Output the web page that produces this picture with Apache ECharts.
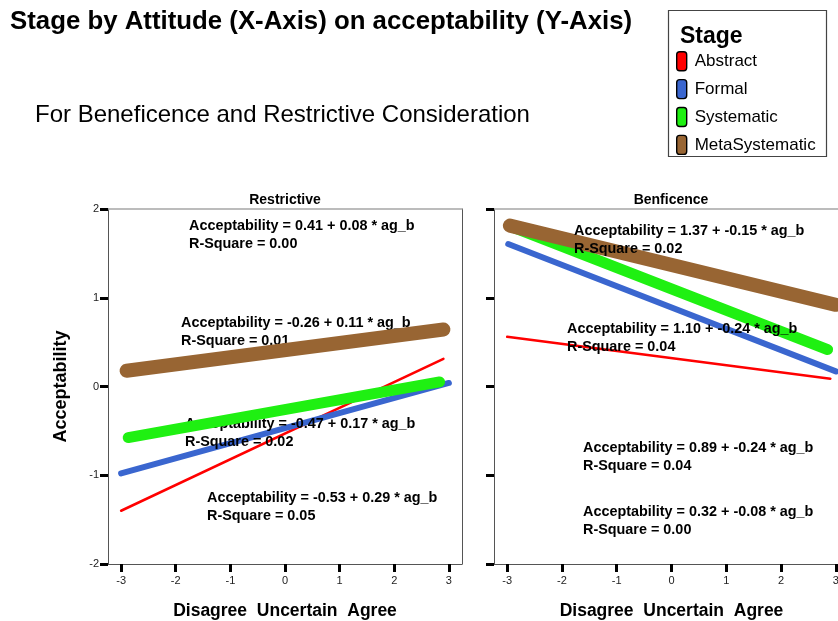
<!DOCTYPE html>
<html>
<head>
<meta charset="utf-8">
<script src="https://cdn.jsdelivr.net/npm/echarts@6/dist/echarts.min.js"></script>
<style>
  html, body { margin: 0; padding: 0; background: #fff; }
  #chart { width: 838px; height: 621px; }
</style>
</head>
<body>
<div id="chart"></div>
<script>
// Stages and their colours
const stages = ['Abstract', 'Formal', 'Systematic', 'MetaSystematic'];
const stageColors = ['#ff0000', '#3a66cf', '#1ff012', '#986533'];
const stageWidths = [2.5, 6, 11, 14];

// Tick values shared by both panels
const xTicks = [-3, -2, -1, 0, 1, 2, 3];

// Restrictive panel: fitted regression per stage
const restrictiveIntercept = [-0.53, -0.47, -0.26, 0.41];
const restrictiveSlope = [0.29, 0.17, 0.11, 0.08];
const restrictiveRSquare = ['0.05', '0.02', '0.01', '0.00'];
const restrictiveXFrom = [-3.0, -3.0, -2.87, -2.9];
const restrictiveXTo = [2.9, 3.0, 2.83, 2.9];

// Benficence panel: fitted regression per stage
const benIntercept = [0.32, 0.89, 1.10, 1.37];
const benSlope = [-0.08, -0.24, -0.24, -0.15];
const benRSquare = ['0.00', '0.04', '0.04', '0.02'];
const benXFrom = [-3.0, -2.98, -2.9, -2.95];
const benXTo = [2.9, 3.0, 2.85, 3.0];

const FONT = "'Liberation Sans', Arial, Helvetica, sans-serif";

// Where each equation text sits (left edge, first-line centre)
const restrictiveLabelPos = [[207, 499], [185, 425], [181, 324], [189, 227]];
const benLabelPos = [[583, 513], [583, 449], [567, 330], [574, 232]];

function fmt(v) { return v.toFixed(2); }

function lineData(a, b, x0, x1) {
  return [[x0, a + b * x0], [x1, a + b * x1]];
}

const series = [];
const graphics = [];

function addPanel(panel, intercepts, slopes, rsq, xFrom, xTo, labelPos) {
  stages.forEach((name, i) => {
    series.push({
      type: 'line',
      name: name,
      xAxisIndex: panel,
      yAxisIndex: panel,
      z: 1 + i * 2,
      data: lineData(intercepts[i], slopes[i], xFrom[i], xTo[i]),
      showSymbol: false,
      symbol: 'none',
      color: stageColors[i],
      itemStyle: { color: stageColors[i] },
      lineStyle: { color: stageColors[i], width: stageWidths[i], cap: 'round' },
      silent: true,
      animation: false
    });
    const [lx, ly] = labelPos[i];
    graphics.push({
      type: 'text', left: lx, top: ly - 8, z: 2 + i * 2,
      style: {
        text: 'Acceptability = ' + fmt(intercepts[i]) + ' + ' + fmt(slopes[i]) + ' * ag_b',
        font: 'bold 14.4px ' + FONT, fill: '#000'
      }
    });
    graphics.push({
      type: 'text', left: lx, top: ly + 10, z: 2 + i * 2,
      style: {
        text: 'R-Square = ' + rsq[i],
        font: 'bold 14.4px ' + FONT, fill: '#000'
      }
    });
  });
}

addPanel(0, restrictiveIntercept, restrictiveSlope, restrictiveRSquare, restrictiveXFrom, restrictiveXTo, restrictiveLabelPos);
addPanel(1, benIntercept, benSlope, benRSquare, benXFrom, benXTo, benLabelPos);

const tickStyle = { show: true, inside: false, length: 8, lineStyle: { color: '#000', width: 3 } };
const frameColor = '#555';

function bottomAxis(gi) {
  return {
    type: 'value', gridIndex: gi, position: 'bottom', min: -3.24, max: 3.24,
    axisLine: { show: true, onZero: false, lineStyle: { color: frameColor, width: 1 } },
    axisTick: Object.assign({ customValues: xTicks }, tickStyle),
    axisLabel: { customValues: xTicks, color: '#222', fontSize: 11, fontFamily: FONT, margin: 11 },
    splitLine: { show: false },
    name: 'Disagree  Uncertain  Agree', nameLocation: 'middle', nameGap: 38,
    nameTextStyle: { fontSize: 17.5, fontWeight: 'bold', color: '#000', fontFamily: FONT }
  };
}
function topAxis(gi) {
  return {
    type: 'value', gridIndex: gi, position: 'top', min: -3.24, max: 3.24,
    axisLine: { show: true, onZero: false, lineStyle: { color: '#a6a6a6', width: 1.5 } },
    axisTick: { show: false }, axisLabel: { show: false }, splitLine: { show: false }
  };
}
function leftAxis(gi, withLabels) {
  const ax = {
    type: 'value', gridIndex: gi, position: 'left', min: -2, max: 2, interval: 1,
    axisLine: { show: true, onZero: false, lineStyle: { color: frameColor, width: 1 } },
    axisTick: tickStyle,
    axisLabel: { show: withLabels, color: '#222', fontSize: 11, fontFamily: FONT, margin: 9 },
    splitLine: { show: false }
  };
  if (withLabels) {
    ax.name = 'Acceptability';
    ax.nameLocation = 'middle';
    ax.nameGap = 38;
    ax.nameTextStyle = { fontSize: 18, fontWeight: 'bold', color: '#000', fontFamily: FONT };
  }
  return ax;
}
function rightAxis(gi) {
  return {
    type: 'value', gridIndex: gi, position: 'right', min: -2, max: 2, interval: 1,
    axisLine: { show: true, onZero: false, lineStyle: { color: frameColor, width: 1 } },
    axisTick: { show: false }, axisLabel: { show: false }, splitLine: { show: false }
  };
}

// Page titles, panel headings and the legend frame
graphics.push(
  { type: 'text', left: 10, top: 9, z: 20,
    style: { text: 'Stage by Attitude (X-Axis) on acceptability (Y-Axis)', font: 'bold 25.8px ' + FONT, fill: '#000' } },
  { type: 'text', left: 35, top: 103, z: 20,
    style: { text: 'For Beneficence and Restrictive Consideration', font: '24px ' + FONT, fill: '#000' } },
  { type: 'text', x: 285, y: 200, z: 20,
    style: { text: 'Restrictive', font: 'bold 14px ' + FONT, fill: '#000', textAlign: 'center', textVerticalAlign: 'middle' } },
  { type: 'text', x: 671, y: 200, z: 20,
    style: { text: 'Benficence', font: 'bold 14px ' + FONT, fill: '#000', textAlign: 'center', textVerticalAlign: 'middle' } },
  { type: 'rect', shape: { x: 668.5, y: 10.5, width: 158, height: 146 }, z: 0,
    style: { fill: '#fff', stroke: '#444', lineWidth: 1.2 } },
  { type: 'text', left: 680, top: 25, z: 20,
    style: { text: 'Stage', font: 'bold 23px ' + FONT, fill: '#000' } }
);

const chart = echarts.init(document.getElementById('chart'), null, { renderer: 'canvas' });
chart.setOption({
  backgroundColor: '#fff',
  animation: false,
  grid: [
    { left: 108, top: 209, width: 354, height: 355, outerBoundsMode: 'none', containLabel: false },
    { left: 494, top: 209, width: 355, height: 355, outerBoundsMode: 'none', containLabel: false }
  ],
  xAxis: [bottomAxis(0), bottomAxis(1), topAxis(0), topAxis(1)],
  yAxis: [leftAxis(0, true), leftAxis(1, false), rightAxis(0), rightAxis(1)],
  legend: {
    orient: 'vertical', left: 671, top: 46,
    itemWidth: 10, itemHeight: 19, itemGap: 7.5,
    icon: 'path://M3,0 L7,0 Q10,0 10,3 L10,16 Q10,19 7,19 L3,19 Q0,19 0,16 L0,3 Q0,0 3,0 Z',
    itemStyle: { borderColor: '#000', borderWidth: 1.4 },
    textStyle: { fontSize: 17, color: '#000', fontFamily: FONT, padding: [0, 0, 0, 3] },
    selectedMode: false,
    data: stages
  },
  graphic: graphics,
  series: series
});
</script>
</body>
</html>
